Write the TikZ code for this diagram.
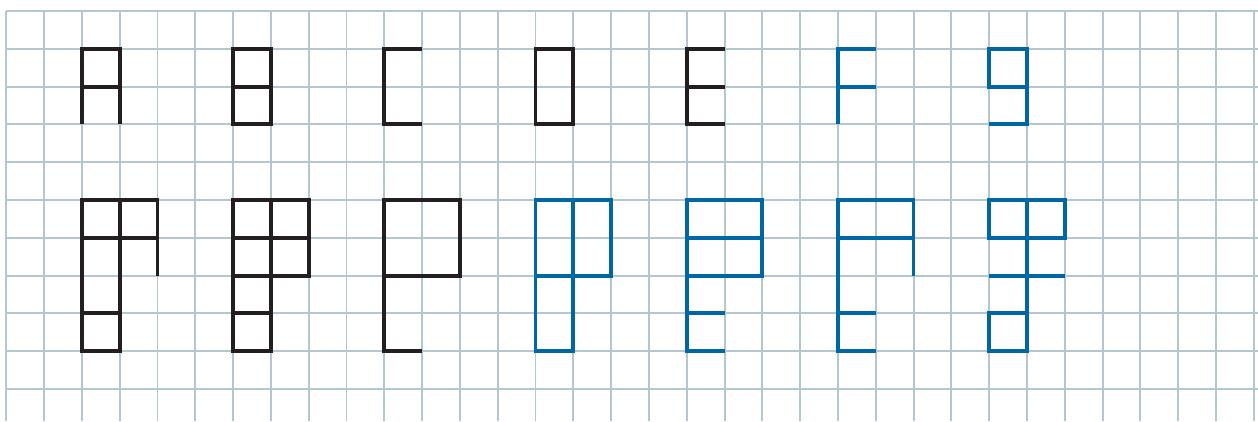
\documentclass[tikz,border=0pt]{standalone}
\definecolor{gridc}{HTML}{B4C6CE}
\definecolor{ink}{HTML}{231F20}
\definecolor{blu}{HTML}{0067A5}
\tikzset{
  gridline/.style={draw=gridc,line width=1.5pt},
  blk/.style={draw=ink,line width=3pt,line join=miter,line cap=butt},
  bl/.style={draw=blu,line width=3pt,line join=miter,line cap=butt}
}
\begin{document}
\begin{tikzpicture}[x=1cm,y=-1cm]
\useasboundingbox (-0.1667,-0.291) rectangle (33.114,10.847);
% grid
\foreach \r in {0,...,10} \draw[gridline] (0,\r) -- (33.114,\r);
\foreach \c in {0,...,33} \draw[gridline] (\c,0) -- (\c,10.847);
% top row letters
\draw[blk] (2,3)--(2,1)--(3,1)--(3,3); \draw[blk] (2,2)--(3,2);
\draw[blk] (6,1) rectangle (7,3); \draw[blk] (6,2)--(7,2);
\draw[blk] (11,1)--(10,1)--(10,3)--(11,3);
\draw[blk] (14,1) rectangle (15,3);
\draw[blk] (19,1)--(18,1)--(18,3)--(19,3); \draw[blk] (18,2)--(19,2);
\draw[bl] (23,1)--(22,1)--(22,3); \draw[bl] (22,2)--(23,2);
\draw[bl] (26,1) rectangle (27,2); \draw[bl] (27,2)--(27,3)--(26,3);
% bottom row shapes
\draw[blk] (3,5)--(3,9)--(2,9)--(2,5)--(4,5)--(4,7);
\draw[blk] (2,6)--(4,6); \draw[blk] (2,8)--(3,8);
\draw[blk] (6,5) rectangle (8,7); \draw[blk] (6,7)--(6,9)--(7,9)--(7,5);
\draw[blk] (6,6)--(8,6); \draw[blk] (6,8)--(7,8);
\draw[blk] (11,9)--(10,9)--(10,5)--(12,5)--(12,7)--(10,7);
\draw[bl] (14,5) rectangle (16,7); \draw[bl] (14,7)--(14,9)--(15,9)--(15,5);
\draw[bl] (18,5) rectangle (20,7); \draw[bl] (18,6)--(20,6);
\draw[bl] (18,7)--(18,9)--(19,9); \draw[bl] (18,8)--(19,8);
\draw[bl] (23,9)--(22,9)--(22,5)--(24,5)--(24,7);
\draw[bl] (22,6)--(24,6); \draw[bl] (22,8)--(23,8);
\draw[bl] (26,5) rectangle (28,6); \draw[bl] (27,5)--(27,9)--(26,9)--(26,8)--(27,8);
\draw[bl] (26,7)--(28,7);
\end{tikzpicture}
\end{document}
